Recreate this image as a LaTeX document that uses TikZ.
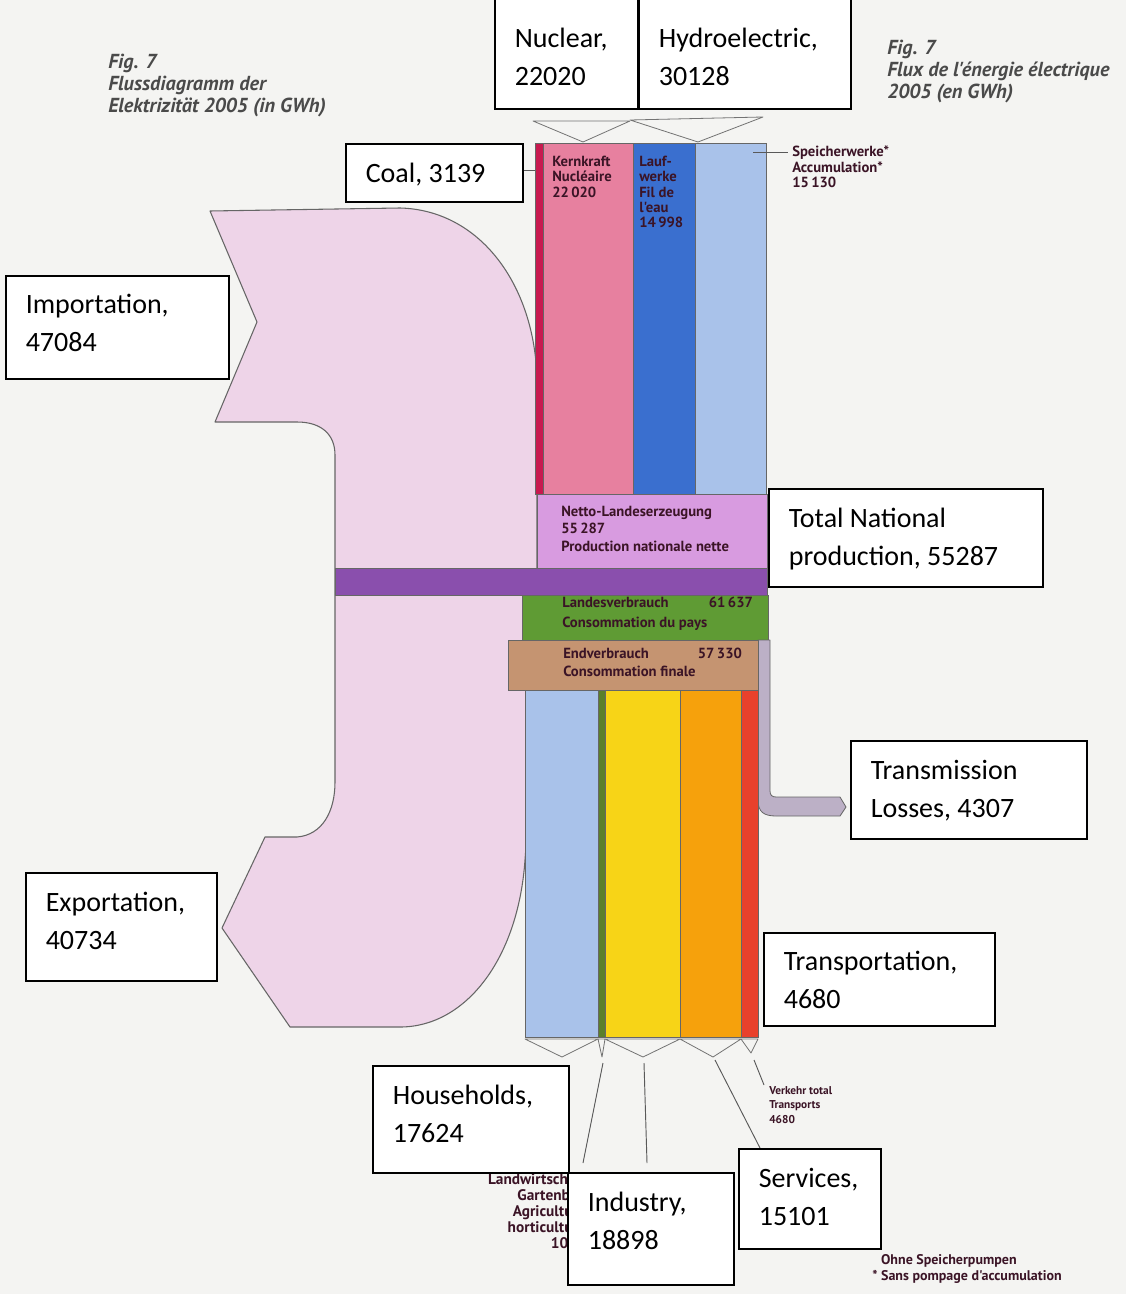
\documentclass[tikz,border=0pt]{standalone}
\usepackage{fontspec}
\setmainfont{Carlito}
\newfontfamily\smallfont{PT Sans}
\definecolor{bgc}{HTML}{F4F4F2}
\definecolor{impc}{HTML}{EED4E8}
\definecolor{coalc}{HTML}{C8194F}
\definecolor{nucc}{HTML}{E7809F}
\definecolor{hydc}{HTML}{3A6FCF}
\definecolor{stoc}{HTML}{A9C2EA}
\definecolor{netc}{HTML}{D89BE0}
\definecolor{purc}{HTML}{8A4FAD}
\definecolor{grnc}{HTML}{5F9B34}
\definecolor{brnc}{HTML}{C59471}
\definecolor{lossc}{HTML}{BCB0C6}
\definecolor{agric}{HTML}{5B7F2B}
\definecolor{yelc}{HTML}{F7D417}
\definecolor{orac}{HTML}{F6A10C}
\definecolor{redc}{HTML}{E8412C}
\definecolor{txtc}{HTML}{3B1426}
\definecolor{titc}{HTML}{4A4A4A}
% width px, height px, first-baseline pt, text
\newcommand{\lblbox}[4]{\parbox[t][\dimexpr #2pt*3/4\relax][t]{\dimexpr #1pt*3/4-30pt\relax}{\raggedright\rule{0pt}{#3pt}#4}}
\begin{document}
\begin{tikzpicture}[x=0.75pt,y=-0.75pt,
  flow/.style={draw=black!60, line width=0.6pt},
  tri/.style={fill=bgc, draw=black!55, line width=0.6pt, line join=round},
  lead/.style={draw=black!65, line width=0.7pt},
  lbl/.style={draw=black, line width=1.2pt, fill=white, inner xsep=15pt, inner ysep=0pt, anchor=north west, font=\fontsize{21}{28.5}\selectfont},
  small/.style={anchor=north west, inner sep=0pt, text=txtc, font=\smallfont\bfseries\fontsize{11}{11.5}\selectfont, align=left},
  tiny/.style={anchor=north west, inner sep=0pt, text=txtc, font=\smallfont\bfseries\fontsize{8.5}{11}\selectfont, align=left},
  title/.style={anchor=north west, inner sep=0pt, text=titc, font=\smallfont\bfseries\itshape\fontsize{15.2}{16.3}\selectfont, align=left}]
\useasboundingbox (0,0) rectangle (1126,1294);
\fill[bgc] (0,0) rectangle (1126,1294);

% import / export flow
\filldraw[fill=impc, draw=black!60, line width=0.8pt, line join=round]
  (210,211) -- (400,208) .. controls (480,210) and (535,285) .. (537,380)
  -- (537,700) -- (525,860) .. controls (518,960) and (465,1027) .. (400,1027)
  -- (290,1027) -- (222,928) -- (265,837) -- (297,837)
  .. controls (322,835) and (335,812) .. (335,782) -- (335,455)
  .. controls (335,435) and (322,422) .. (297,422) -- (215,422) -- (257,322) -- cycle;

% production columns
\filldraw[flow, fill=coalc] (535,143) rectangle (543,494);
\filldraw[flow, fill=nucc] (543,143) rectangle (633,494);
\filldraw[flow, fill=hydc] (633,143) rectangle (695,494);
\filldraw[flow, fill=stoc] (695,143) rectangle (766,494);
\filldraw[flow, fill=netc] (537,494) rectangle (767,568);
\filldraw[flow, fill=purc] (335,568) rectangle (767,595);
\filldraw[flow, fill=grnc] (522,595) rectangle (768,640);
% transmission losses
\filldraw[flow, fill=lossc, line join=round]
  (758,640) -- (758,800) .. controls (758,812) and (764,816) .. (776,816)
  -- (840,816) -- (846,807) -- (840,797) -- (776,797)
  .. controls (772,797) and (770,795) .. (770,791) -- (770,640) -- cycle;
\filldraw[flow, fill=brnc] (508,640) rectangle (758,690);
% consumption columns
\filldraw[flow, fill=stoc] (525,690) rectangle (598,1037);
\filldraw[flow, fill=agric] (598,690) rectangle (605,1037);
\filldraw[flow, fill=yelc] (605,690) rectangle (680,1037);
\filldraw[flow, fill=orac] (680,690) rectangle (741,1037);
\filldraw[flow, fill=redc] (741,690) rectangle (758,1037);

% triangles
\filldraw[tri] (533,121) -- (630,121) -- (583,142) -- cycle;
\filldraw[tri] (630,120) -- (763,117) -- (698,142) -- cycle;
\filldraw[tri] (525,1039) -- (598,1039) -- (562,1057) -- cycle;
\filldraw[tri] (598,1039) -- (605,1039) -- (602,1057) -- cycle;
\filldraw[tri] (605,1039) -- (680,1039) -- (643,1057) -- cycle;
\filldraw[tri] (680,1039) -- (741,1039) -- (713,1057) -- cycle;
\filldraw[tri] (741,1039) -- (758,1039) -- (751,1053) -- cycle;

% small labels
\node[small] (kern) at (552,156) {Kernkraft\\Nucléaire\\22\,020};
\node[small] (lauf) at (639,156) {Lauf-\\werke\\Fil de\\l'eau\\14\,998};
\node[small] (speich) at (792,146) {Speicherwerke*\\Accumulation*\\15\,130};
\node[small, font=\smallfont\bfseries\fontsize{11}{13}\selectfont] (netto) at (561,506) {Netto-Landeserzeugung\\55\,287\\Production nationale nette};
\node[small, font=\smallfont\bfseries\fontsize{11}{14.5}\selectfont] (landes) at (562,597) {\parbox{143pt}{Landesverbrauch\hfill 61\,637\\Consommation du pays}};
\node[small, font=\smallfont\bfseries\fontsize{11}{13.5}\selectfont] (endv) at (563,648) {\parbox{134pt}{Endverbrauch\hfill 57\,330\\Consommation finale}};
\node[tiny] (verk) at (769,1086) {Verkehr total\\Transports\\4680};
\node[tiny, anchor=north east, align=right, font=\smallfont\bfseries\fontsize{11.5}{12}\selectfont] (landw) at (586,1173) {Landwirtschaft\\Gartenbau\\Agriculture\\horticulture\\1027};
\node[small, font=\smallfont\bfseries\fontsize{10.5}{12}\selectfont] (foot) at (872,1254) {\hphantom{*~}Ohne Speicherpumpen\\*~Sans pompage d'accumulation};
\node[title] (titde) at (108,54) {Fig. 7\\Flussdiagramm der\\Elektrizität 2005 (in GWh)};
\node[title] (titfr) at (887,40) {Fig. 7\\Flux de l'énergie électrique\\2005 (en GWh)};

% leader lines
\coordinate (speichend) at (753,152);
\draw[lead] (speichend) -- (788,152);
\coordinate (a1) at (603,1063); \coordinate (a2) at (583,1163);
\coordinate (b1) at (644,1063); \coordinate (b2) at (647,1163);
\coordinate (c1) at (715,1060); \coordinate (c2) at (760,1148);
\coordinate (d1) at (754,1060); \coordinate (d2) at (764,1085);
\draw[lead] (a1) -- (a2);
\draw[lead] (b1) -- (b2);
\draw[lead] (c1) -- (c2);
\draw[lead] (d1) -- (d2);

% label boxes
\node[lbl] (nuc) at (494,-3) {\lblbox{143}{111}{37}{Nuclear,\\22020}};
\node[lbl] (hyd) at (638,-3) {\lblbox{212}{111}{37}{Hydroelectric,\\30128}};
\node[lbl] (coal) at (345,143) {\lblbox{177}{58}{29}{Coal, 3139}};
\coordinate (coalstrip) at (535,170);
\draw[lead] (coal.east |- coalstrip) -- (coalstrip);
\node[lbl] (imp) at (5,275) {\lblbox{223}{103}{28}{Importation,\\47084}};
\node[lbl] (tnp) at (768,488) {\lblbox{274}{98}{29}{Total National\\production, 55287}};
\node[lbl] (loss) at (850,740) {\lblbox{236}{98}{29}{Transmission\\Losses, 4307}};
\node[lbl] (exp) at (25,872) {\lblbox{191}{108}{29}{Exportation,\\40734}};
\node[lbl] (trp) at (763,932) {\lblbox{231}{93}{28}{Transportation,\\4680}};
\node[lbl] (hh) at (372,1065) {\lblbox{196}{107}{29}{Households,\\17624}};
\node[lbl] (ind) at (567,1172) {\lblbox{166}{112}{29}{Industry,\\18898}};
\node[lbl] (srv) at (738,1148) {\lblbox{142}{100}{29}{Services,\\15101}};
\end{tikzpicture}
\end{document}
